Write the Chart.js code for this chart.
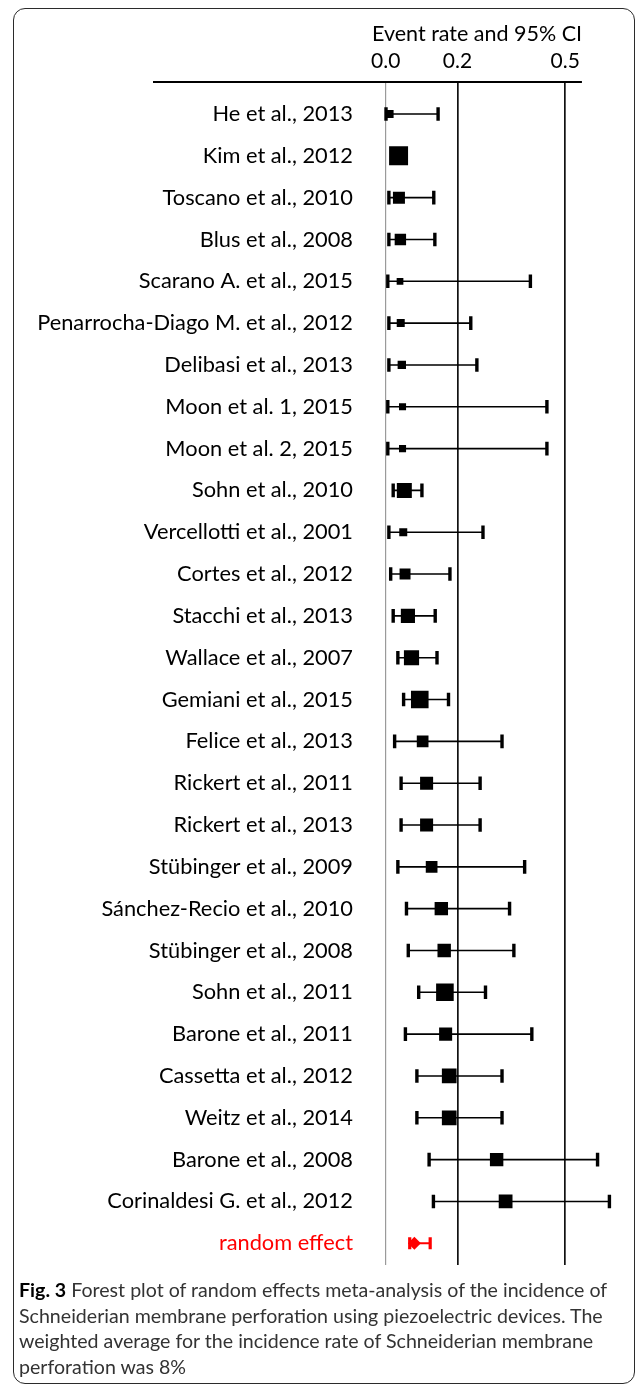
<!DOCTYPE html>
<html>
<head>
<meta charset="utf-8">
<script src="https://cdn.jsdelivr.net/npm/chart.js@4.4.1/dist/chart.umd.min.js"></script>
<style>
  html, body { margin: 0; padding: 0; background: #fff; }
  body { width: 637px; height: 1385px; position: relative; overflow: hidden; }
  #frame {
    position: absolute; left: 13px; top: 8px; width: 622px; height: 1376px;
    border: 1.5px solid #2b2b2b; border-radius: 12px; box-sizing: border-box;
  }
  #plot { position: absolute; left: 0; top: 0; }
  #caption {
    position: absolute; left: 19px; top: 1277px;
    font-family: Lato, "Open Sans", sans-serif; font-size: 19.6px; line-height: 25.5px;
    color: #333333; white-space: nowrap;
  }
  #caption b { color: #000; }
</style>
</head>
<body>
<div id="frame"></div>
<canvas id="plot" width="637" height="1385"></canvas>
<div id="caption">
  <b>Fig. 3</b> Forest plot of random effects meta-analysis of the incidence of<br>
  Schneiderian membrane perforation using piezoelectric devices. The<br>
  weighted average for the incidence rate of Schneiderian membrane<br>
  perforation was 8%
</div>
<script>
// Studies, top to bottom
const studies = [
  'He et al., 2013',
  'Kim et al., 2012',
  'Toscano et al., 2010',
  'Blus et al., 2008',
  'Scarano A. et al., 2015',
  'Penarrocha-Diago M. et al., 2012',
  'Delibasi et al., 2013',
  'Moon et al. 1, 2015',
  'Moon et al. 2, 2015',
  'Sohn et al., 2010',
  'Vercellotti et al., 2001',
  'Cortes et al., 2012',
  'Stacchi et al., 2013',
  'Wallace et al., 2007',
  'Gemiani et al., 2015',
  'Felice et al., 2013',
  'Rickert et al., 2011',
  'Rickert et al., 2013',
  'Stübinger et al., 2009',
  'Sánchez-Recio et al., 2010',
  'Stübinger et al., 2008',
  'Sohn et al., 2011',
  'Barone et al., 2011',
  'Cassetta et al., 2012',
  'Weitz et al., 2014',
  'Barone et al., 2008',
  'Corinaldesi G. et al., 2012'
];

// Event rate (perforation incidence) per study
const rate = [
  0.011, 0.036, 0.037, 0.041, 0.040, 0.042, 0.045, 0.047, 0.047,
  0.052, 0.049, 0.054, 0.062, 0.072, 0.095, 0.103, 0.114, 0.114,
  0.128, 0.155, 0.163, 0.165, 0.167, 0.177, 0.177, 0.309, 0.334
];

// Lower 95% CI limit
const lower = [
  0.001, 0.017, 0.009, 0.009, 0.006, 0.009, 0.009, 0.006, 0.006,
  0.021, 0.009, 0.014, 0.021, 0.034, 0.050, 0.025, 0.043, 0.043,
  0.034, 0.058, 0.063, 0.092, 0.055, 0.087, 0.087, 0.121, 0.133
];

// Upper 95% CI limit
const upper = [
  0.146, 0.056, 0.134, 0.137, 0.403, 0.237, 0.254, 0.449, 0.449,
  0.101, 0.271, 0.179, 0.138, 0.143, 0.175, 0.324, 0.263, 0.263,
  0.387, 0.345, 0.357, 0.278, 0.407, 0.324, 0.324, 0.590, 0.623
];

// Relative study weights (marker area)
const weight = [
  6.4, 36, 14.4, 13, 4.5, 6.4, 7, 5, 5,
  22.5, 6.4, 12, 20, 23, 31, 13.7, 17, 17,
  13.7, 18, 18, 31, 17, 21.6, 21.6, 18, 19
];

// Pooled random-effects estimate
const pooledLabel = 'random effect';
const pooledRate = 0.08;
const pooledLower = 0.067;
const pooledUpper = 0.124;

// Axis
const xTicks = [0.0, 0.2, 0.5];
const axisTitle = 'Event rate and 95% CI';

const rowLabels = [...studies, pooledLabel];
const pooledRow = studies.length;

const INK = '#000000';
const RED = '#ff0000';

// whisker segments, broken between rows
const whiskerPts = [];
studies.forEach((_, i) => {
  whiskerPts.push({ x: lower[i], y: i }, { x: upper[i], y: i }, { x: null, y: null });
});
const capPts = [];
studies.forEach((_, i) => {
  capPts.push({ x: lower[i], y: i }, { x: upper[i], y: i });
});

const headerRule = {
  id: 'headerRule',
  beforeDatasetsDraw(chart) {
    const { ctx, chartArea, scales } = chart;
    ctx.save();
    ctx.strokeStyle = INK;
    ctx.lineWidth = 2;
    ctx.beginPath();
    ctx.moveTo(153, chartArea.top);
    ctx.lineTo(scales.x.getPixelForValue(0.5465), chartArea.top);
    ctx.stroke();
    ctx.restore();
  }
};

Chart.defaults.font.family = 'Lato, "Open Sans", sans-serif';
Chart.defaults.color = INK;

new Chart(document.getElementById('plot'), {
  type: 'scatter',
  data: {
    datasets: [
      {
        label: 'weights',
        data: studies.map((_, i) => ({ x: rate[i], y: i })),
        pointStyle: 'rect',
        pointRadius: weight.map(w => Math.sqrt(w * 10) / Math.SQRT2),
        pointBackgroundColor: INK,
        pointBorderWidth: 0,
        order: 0
      },
      {
        label: 'pooled',
        data: [{ x: pooledRate, y: pooledRow }],
        pointStyle: 'rectRot',
        pointRadius: 6.5,
        pointBackgroundColor: RED,
        pointBorderColor: RED,
        pointBorderWidth: 0,
        order: 0
      },
      {
        label: 'caps',
        data: capPts,
        pointStyle: 'line',
        rotation: 90,
        pointRadius: 6.8,
        pointBorderColor: INK,
        pointBorderWidth: 3.4,
        order: 1
      },
      {
        label: 'pooled caps',
        data: [{ x: pooledLower, y: pooledRow }, { x: pooledUpper, y: pooledRow }],
        pointStyle: 'line',
        rotation: 90,
        pointRadius: 6,
        pointBorderColor: RED,
        pointBorderWidth: 3.2,
        order: 1
      },
      {
        label: 'ci',
        data: whiskerPts,
        showLine: true,
        spanGaps: false,
        pointRadius: 0,
        borderColor: INK,
        borderWidth: 1.6,
        order: 2
      },
      {
        label: 'pooled ci',
        data: [{ x: pooledLower, y: pooledRow }, { x: pooledUpper, y: pooledRow }],
        showLine: true,
        pointRadius: 0,
        borderColor: RED,
        borderWidth: 2,
        order: 2
      }
    ]
  },
  options: {
    responsive: false,
    animation: false,
    devicePixelRatio: 1,
    layout: { padding: { left: 0, right: 14.3, top: 0, bottom: 120 } },
    plugins: { legend: { display: false }, tooltip: { enabled: false } },
    scales: {
      x: {
        type: 'linear',
        position: 'top',
        min: -0.038,
        max: 0.66,
        afterBuildTicks: s => { s.ticks = xTicks.map(v => ({ value: v })); },
        afterFit: s => { s.height = 82; },
        ticks: {
          callback: v => Number(v).toFixed(1),
          font: { size: 21 },
          color: INK,
          padding: 8,
          maxRotation: 0,
          autoSkip: false
        },
        grid: {
          drawTicks: false,
          color: c => (c.tick && c.tick.value === 0 ? '#9a9a9a' : '#111111'),
          lineWidth: c => (c.tick && c.tick.value === 0 ? 1.2 : 1.7)
        },
        border: { display: false },
        title: {
          display: true,
          text: axisTitle,
          align: 'start',
          color: INK,
          font: { size: 21.5 },
          padding: { top: 21, bottom: 0 }
        }
      },
      y: {
        type: 'linear',
        reverse: true,
        min: -0.765,
        max: 27.52,
        offset: false,
        afterBuildTicks: s => { s.ticks = rowLabels.map((_, i) => ({ value: i })); },
        afterFit: s => { s.width = 372; },
        ticks: {
          callback: v => rowLabels[v],
          autoSkip: false,
          padding: 11,
          font: { size: 21.8 },
          color: c => (c.index === pooledRow ? RED : INK)
        },
        grid: { display: false, offset: false },
        border: { display: false }
      }
    }
  },
  plugins: [headerRule]
});
</script>
</body>
</html>
